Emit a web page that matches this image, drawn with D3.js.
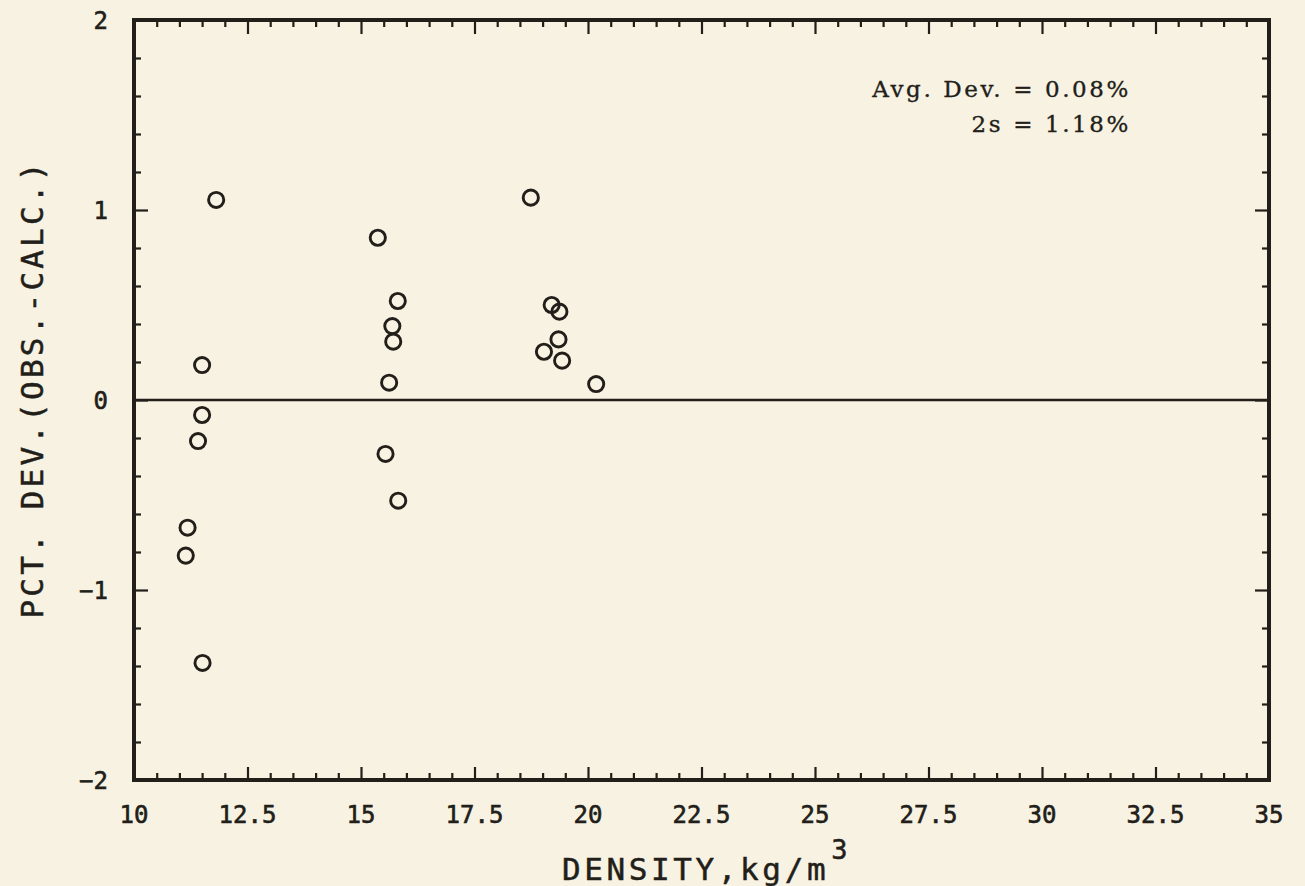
<!DOCTYPE html>
<html><head><meta charset="utf-8">
<script src="https://cdn.jsdelivr.net/npm/d3@7"></script>
<style>
html,body{margin:0;padding:0;background:#f8f2e3;}
svg{display:block;}
</style></head>
<body>
<script>
const density = [11.81, 11.50, 11.50, 11.41, 11.18, 11.14, 11.51,
                 15.37, 15.81, 15.69, 15.71, 15.62, 15.54, 15.82,
                 18.74, 19.20, 19.37, 19.35, 19.03, 19.43, 20.18];
const pctDev  = [1.053, 0.184, -0.079, -0.216, -0.672, -0.819, -1.384,
                 0.854, 0.521, 0.389, 0.307, 0.091, -0.284, -0.530,
                 1.065, 0.500, 0.465, 0.319, 0.254, 0.207, 0.084];
const xTickLabels = [10, 12.5, 15, 17.5, 20, 22.5, 25, 27.5, 30, 32.5, 35];
const yTickLabels = [-2, -1, 0, 1, 2];
const annotations = ["Avg. Dev. = 0.08%", "2s = 1.18%"];

const W = 1305, H = 886;
const L = 134, R = 1269, T = 20, B = 780;
const ink = "#221e19";

const svg = d3.select("body").append("svg").attr("width", W).attr("height", H);
svg.append("rect").attr("width", W).attr("height", H).attr("fill", "#f8f2e3");

const x = d3.scaleLinear().domain([10, 35]).range([L, R]);
const y = d3.scaleLinear().domain([-2, 2]).range([B, T]);

const xMinor = d3.range(0, 51).map(i => 10 + i * 0.5);
const yMinor = d3.range(0, 21).map(i => -2 + i * 0.2);
const isMajX = v => Math.abs(v / 2.5 - Math.round(v / 2.5)) < 1e-6;
const isMajY = v => Math.abs(v - Math.round(v)) < 1e-6;

function styleAxis(g) {
  g.select(".domain").remove();
  g.selectAll(".tick line").attr("stroke", ink).attr("stroke-width", 2.2);
  g.selectAll(".tick text").remove();
}

const gB = svg.append("g").attr("transform", `translate(0,${B})`)
  .call(d3.axisBottom(x).tickValues(xMinor).tickSizeOuter(0).tickSizeInner(0));
styleAxis(gB);
gB.selectAll(".tick line").attr("y2", d => isMajX(d) ? -13 : -7);
const gT = svg.append("g").attr("transform", `translate(0,${T})`)
  .call(d3.axisTop(x).tickValues(xMinor).tickSizeOuter(0).tickSizeInner(0));
styleAxis(gT);
gT.selectAll(".tick line").attr("y2", d => isMajX(d) ? 14 : 7);
const gL = svg.append("g").attr("transform", `translate(${L},0)`)
  .call(d3.axisLeft(y).tickValues(yMinor).tickSizeOuter(0).tickSizeInner(0));
styleAxis(gL);
gL.selectAll(".tick line").attr("x2", d => isMajY(d) ? 14 : 7);
const gR = svg.append("g").attr("transform", `translate(${R},0)`)
  .call(d3.axisRight(y).tickValues(yMinor).tickSizeOuter(0).tickSizeInner(0));
styleAxis(gR);
gR.selectAll(".tick line").attr("x2", d => isMajY(d) ? -14 : -7);

svg.append("rect").attr("x", L).attr("y", T).attr("width", R - L).attr("height", B - T)
  .attr("fill", "none").attr("stroke", ink).attr("stroke-width", 4);

svg.append("line").attr("x1", x(10)).attr("x2", x(35)).attr("y1", y(0)).attr("y2", y(0))
  .attr("stroke", ink).attr("stroke-width", 2.4);

const tickFont = "'DejaVu Sans Mono', monospace";
svg.append("g").selectAll("text").data(xTickLabels).join("text")
  .attr("x", d => x(d)).attr("y", 823)
  .attr("text-anchor", "middle")
  .attr("font-family", tickFont).attr("font-size", 24).attr("fill", ink)
  .attr("stroke", ink).attr("stroke-width", 0.6)
  .text(d => d);
svg.append("g").selectAll("text").data(yTickLabels).join("text")
  .attr("x", 108).attr("y", d => y(d) + 9)
  .attr("text-anchor", "end")
  .attr("font-family", tickFont).attr("font-size", 24).attr("fill", ink)
  .attr("stroke", ink).attr("stroke-width", 0.6)
  .text(d => d < 0 ? "\u2212" + Math.abs(d) : d);

const xt = svg.append("text").attr("x", 562).attr("y", 880)
  .attr("font-family", tickFont).attr("font-size", 31).attr("letter-spacing", 3.6)
  .attr("fill", ink).attr("stroke", ink).attr("stroke-width", 0.5);
xt.append("tspan").text("DENSITY,kg/m");
xt.append("tspan").attr("dy", -21).attr("dx", 2).attr("font-size", 27).attr("letter-spacing", 0).text("3");

svg.append("text")
  .attr("transform", `translate(43,${389}) rotate(-90)`)
  .attr("text-anchor", "middle")
  .attr("font-family", tickFont).attr("font-size", 31).attr("letter-spacing", 3.2)
  .attr("fill", ink).attr("stroke", ink).attr("stroke-width", 0.5)
  .text("PCT. DEV.(OBS.-CALC.)");

svg.append("g").selectAll("text").data(annotations).join("text")
  .attr("x", 1131).attr("y", (d, i) => 97 + i * 35)
  .attr("text-anchor", "end")
  .attr("font-family", "'DejaVu Serif', 'Liberation Serif', serif")
  .attr("font-size", 23).attr("letter-spacing", 2.6).attr("fill", ink)
  .attr("stroke", ink).attr("stroke-width", 0.35)
  .text(d => d);

svg.append("g").selectAll("circle").data(density.map((d, i) => [d, pctDev[i]])).join("circle")
  .attr("cx", d => x(d[0])).attr("cy", d => y(d[1])).attr("r", 7.6)
  .attr("fill", "none").attr("stroke", ink).attr("stroke-width", 2.9);
</script>
</body></html>
